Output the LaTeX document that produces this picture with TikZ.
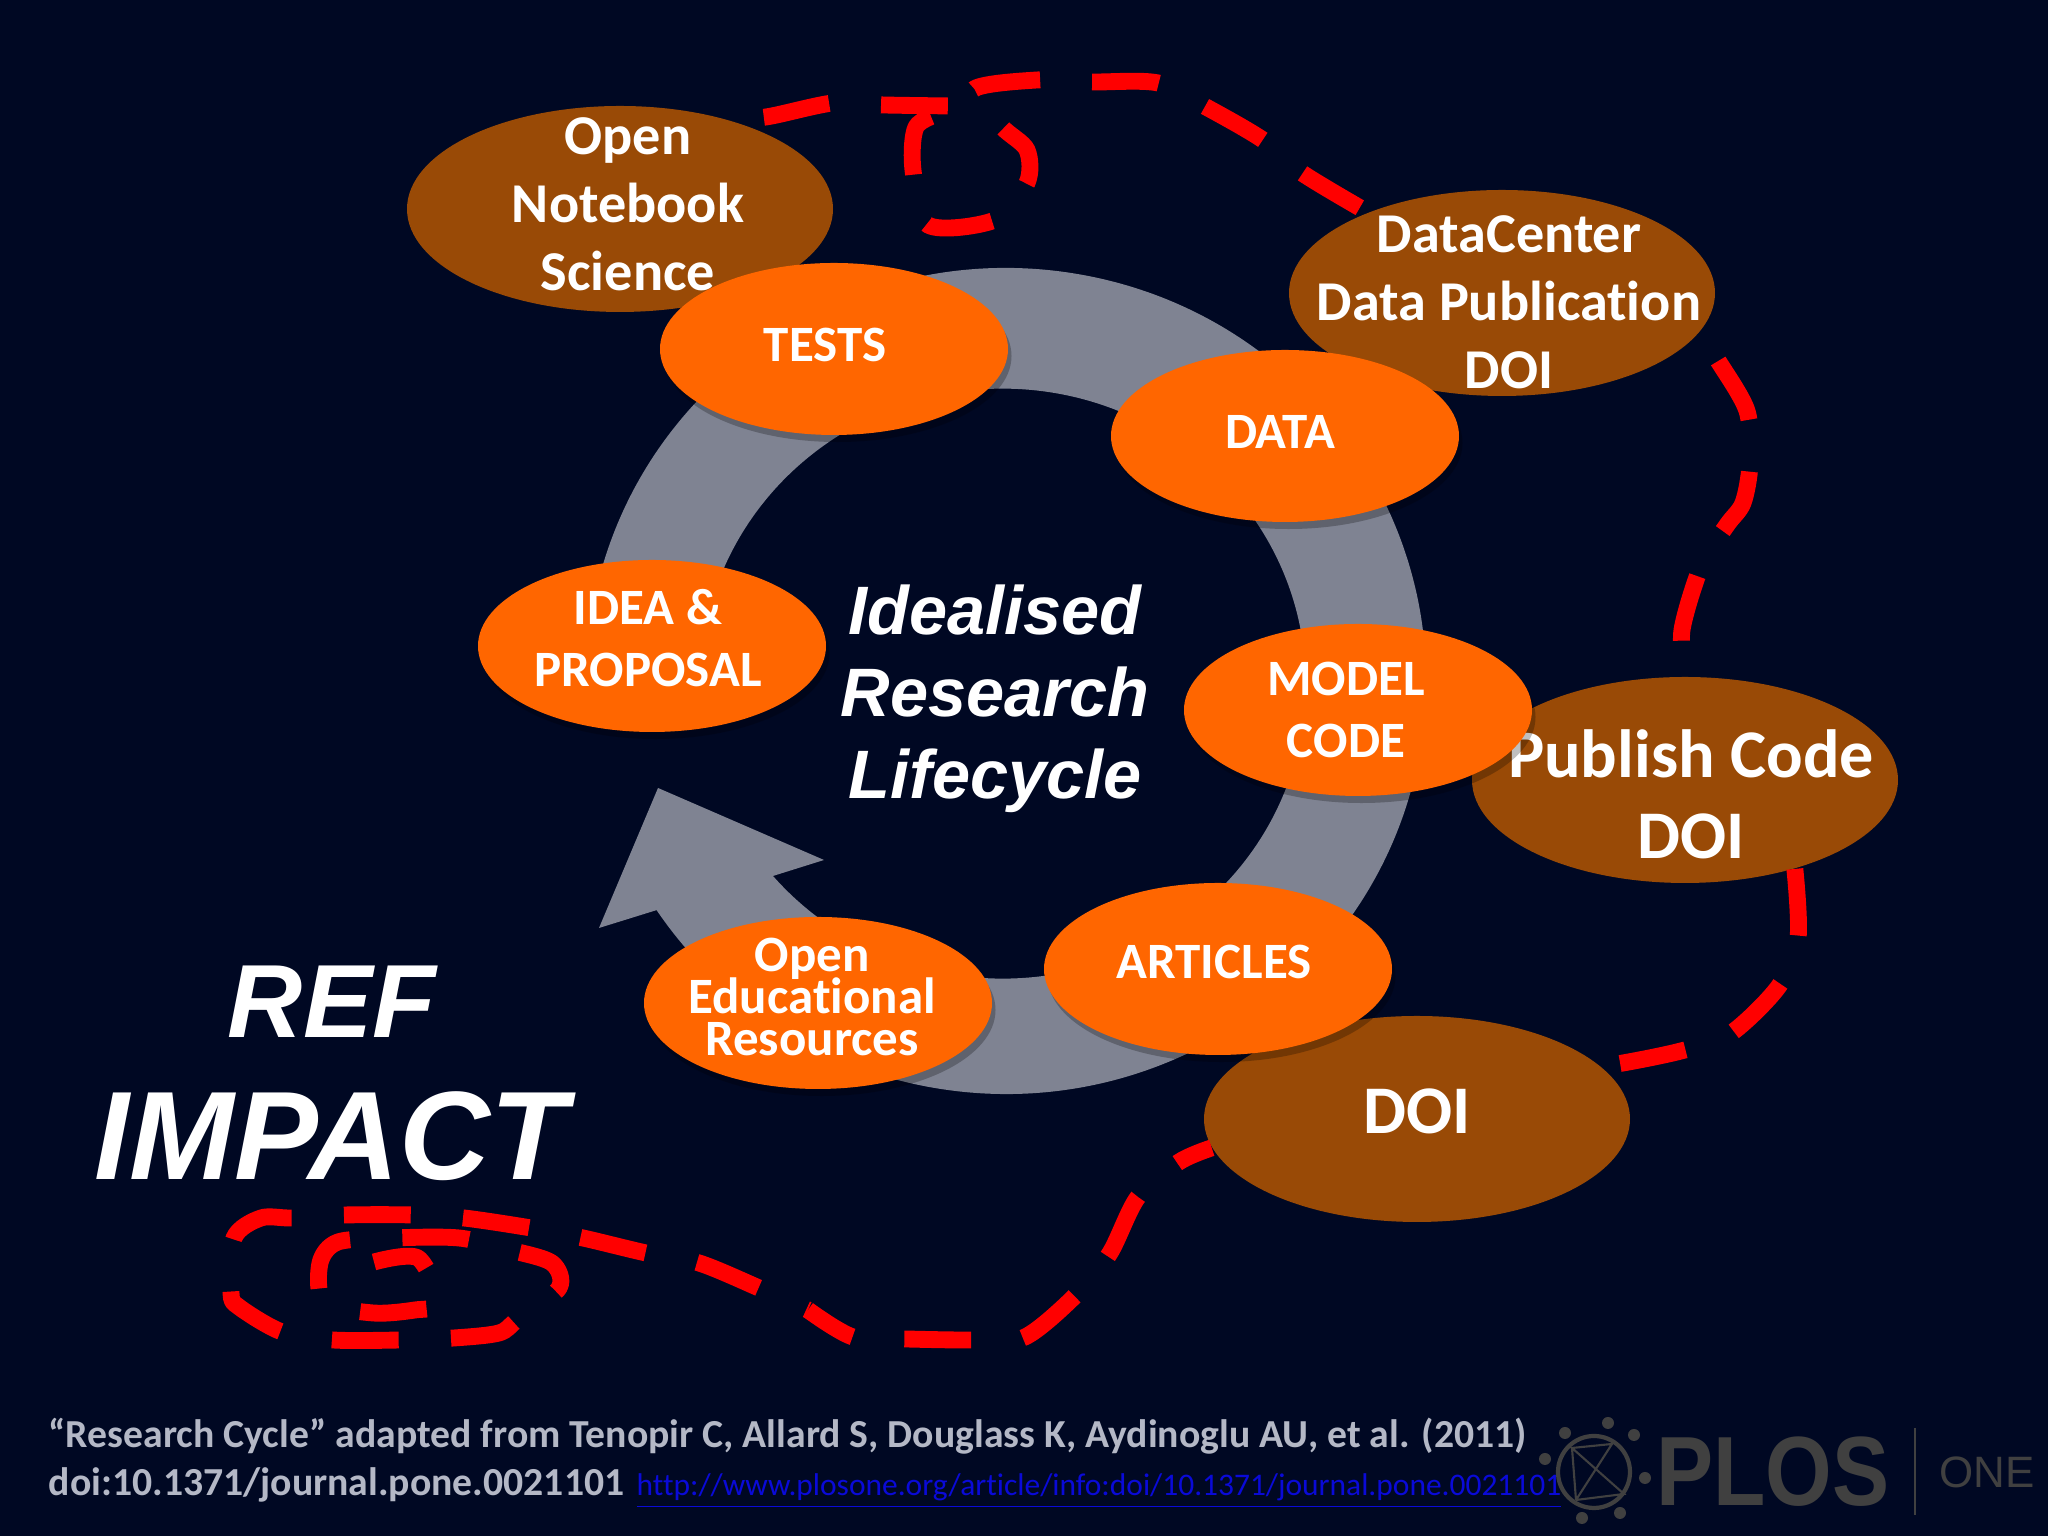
\documentclass[tikz,border=0pt]{standalone}
\usepackage{fontspec}
\usepackage{xcolor}
\setmainfont[Ligatures=CommonOff]{Carlito}
\newfontfamily\arialfont{Liberation Sans}
\usetikzlibrary{shapes.geometric, shadows}
\definecolor{slidebg}{HTML}{000823}
\definecolor{ringgrey}{HTML}{7F8392}
\definecolor{ballbrown}{HTML}{994A06}
\definecolor{ballorange}{HTML}{FF6600}
\definecolor{notegrey}{HTML}{B4B8C6}
\definecolor{linkblue}{HTML}{0A0AD8}
\definecolor{logogrey}{HTML}{404040}

\begin{document}
\begin{tikzpicture}[
    brownball/.style={ellipse, fill=ballbrown, inner sep=0pt, minimum width=4.26cm, minimum height=2.06cm},
    orangeball/.style={ellipse, fill=ballorange, inner sep=0pt, minimum width=3.48cm, minimum height=1.72cm, drop shadow={fill=black, opacity=0.25, shadow xshift=1pt, shadow yshift=-2pt}},
    browntext/.style={text=white, align=center, inner sep=0pt, font=\fontsize{16}{19.3}\selectfont\bfseries},
    bigbrowntext/.style={text=white, align=center, inner sep=0pt, font=\fontsize{19.4}{23}\selectfont\bfseries},
    orangetext/.style={text=white, align=center, inner sep=0pt, font=\fontsize{14.5}{17.5}\selectfont\bfseries},
    bigword/.style={text=white, align=center, font=\arialfont\bfseries\itshape},
    redloop/.style={draw=red, line width=4.8pt, line join=round, dash pattern=on 19pt off 14.8pt},
    notetext/.style={text=notegrey, anchor=base west, inner sep=0pt, font=\fontsize{11.3}{14}\selectfont\bfseries},
    logodot/.style={circle, fill=logogrey, inner sep=0pt, minimum size=0.12cm}
  ]
  \useasboundingbox (0,0) rectangle (20.48,15.36);
  \fill[slidebg] (0,0) rectangle (20.48,15.36);

  \fill[ringgrey] (10.06,8.55) ++(170:4.20 and 4.13)
    arc[x radius=4.20, y radius=4.13, start angle=170, end angle=-146.3]
    -- (5.99,6.08) -- (6.58,7.48) -- (8.24,6.76) -- (7.73,6.60)
    arc[x radius=3.03, y radius=2.95, start angle=-139.3, end angle=170] -- cycle;

  \node[brownball, label={[browntext, xshift=0.08cm, yshift=0.05cm]center:Open\\Notebook\\Science}] (notebook) at (6.20,13.27) {};
  \node[brownball, label={[browntext, xshift=0.07cm, yshift=-0.09cm]center:DataCenter\\Data Publication\\DOI}] (datacenter) at (15.02,12.43) {};
  \node[brownball, label={[bigbrowntext, xshift=0.06cm, yshift=-0.14cm]center:Publish Code\\DOI}] (publish) at (16.85,7.56) {};
  \node[brownball, label={[bigbrowntext, yshift=0.08cm]center:DOI}] (doi) at (14.17,4.17) {};

  \node[orangeball, label={[orangetext, xshift=-0.09cm, yshift=0.04cm]center:TESTS}] (tests) at (8.34,11.87) {};
  \node[orangeball, label={[orangetext, xshift=-0.05cm, yshift=0.04cm]center:DATA}] (data) at (12.85,11.00) {};
  \node[orangeball, label={[orangetext, xshift=-0.04cm, yshift=0.08cm]center:IDEA \&\\PROPOSAL}] (idea) at (6.52,8.90) {};
  \node[orangeball, label={[orangetext, xshift=-0.12cm]center:MODEL\\CODE}] (model) at (13.58,8.26) {};
  \node[orangeball, label={[orangetext, xshift=-0.04cm, yshift=0.07cm]center:ARTICLES}] (articles) at (12.18,5.67) {};
  \node[orangeball, label={[orangetext, xshift=-0.06cm, yshift=0.06cm]center:Open\\[-5.6pt]Educational\\[-5.6pt]Resources}] (oer) at (8.18,5.33) {};

  \node[bigword, font=\arialfont\bfseries\itshape\fontsize{19.5}{23.4}\selectfont] (lifecycle) at (9.95,8.37) {Idealised\\Research\\Lifecycle};
  \node[bigword, font=\arialfont\bfseries\itshape\fontsize{29.6}{34}\selectfont] (ref) at (3.32,5.34) {REF};
  \node[bigword, font=\arialfont\bfseries\itshape\fontsize{35.8}{42}\selectfont] (impact) at (3.31,4.00) {IMPACT};

  \coordinate (hooka) at (9.51,14.30);
  \coordinate (hookb) at (9.41,14.23);
  \coordinate (bend) at (8.08,2.26);
  \coordinate (refend) at (3.74,2.74);

  \draw[redloop, dash phase=22.5pt] plot[smooth, tension=0.5] coordinates {(notebook.41) (7.66,14.19) (8.33,14.33) (8.84,14.31) (hooka)};
  \draw[redloop, dash phase=30.8pt] plot[smooth, tension=0.5] coordinates {(hookb) (9.16,14.09) (9.13,13.66) (9.28,13.11) (9.95,13.16) (10.27,13.53) (10.27,13.86) (10.02,14.09) (9.73,14.46) (10.37,14.56) (10.91,14.54) (11.58,14.53) (12.06,14.29) (12.63,13.96) (13.02,13.63) (datacenter.149)};
  \draw[redloop, dash phase=24pt] plot[smooth, tension=0.5] coordinates {(datacenter.-11) (17.17,11.77) (17.47,11.25) (17.50,10.72) (17.43,10.33) (17.27,10.11) (17.02,9.72) (16.82,9.06) (publish.north)};
  \draw[redloop] plot[smooth, tension=0.5] coordinates {(publish.-39) (17.98,5.98) (17.79,5.50) (17.30,5.02) (16.81,4.85) (16.17,4.72) (doi.17)};
  \draw[redloop, dash phase=8.25pt] plot[smooth, tension=0.5] coordinates {(doi.188) (11.79,3.74) (11.38,3.39) (11.10,2.83) (10.78,2.43) (10.25,1.99) (9.75,1.96) (9.06,1.97) (8.53,1.99) (bend)};
  \draw[redloop, dash pattern=on 19pt off 14.9pt, dash phase=18.5pt] plot[smooth, tension=0.5] coordinates {(bend) (7.59,2.48) (6.99,2.73) (6.46,2.83) (5.83,2.98) (5.31,3.08) (4.64,3.18) (4.14,3.21) (3.45,3.21) (2.92,3.18) (2.61,3.18) (2.34,2.98) (2.31,2.43) (2.39,2.29) (2.82,2.04) (3.33,1.96) (4.01,1.96) (4.54,1.98) (4.99,2.03) (5.17,2.16) (5.59,2.48) (5.52,2.73) (5.10,2.86) (4.59,2.98) (3.92,2.98) (3.38,2.94) (3.20,2.73) (3.24,2.34) (3.73,2.23) (4.15,2.26) (4.39,2.33) (4.18,2.78) (refend)};

  \draw[logogrey, line width=1.2pt] (15.94,0.64) circle (0.36);
  \draw[logogrey, line width=0.6pt] (15.76,0.36) -- (16.12,0.92) -- (15.72,0.88) -- (16.24,0.42) -- (15.76,0.36) (15.72,0.88) -- (15.76,0.36);
  \foreach \dotx/\doty in {16.08/1.13, 15.65/1.03, 16.34/1.01, 15.45/0.77, 16.45/0.58, 15.82/0.18, 16.20/0.23} {
    \node[logodot] at (\dotx,\doty) {};
  }
  \node[text=logogrey, xscale=0.87, inner sep=0pt, font=\arialfont\bfseries\fontsize{28}{28}\selectfont] (plos) at (17.73,0.64) {PLOS};
  \draw[logogrey, line width=0.8pt] (19.15,1.08) -- (19.15,0.21);
  \node[text=logogrey, inner sep=0pt, font=\arialfont\fontsize{12.5}{12}\selectfont] (one) at (19.87,0.64) {ONE};

  \node[notetext] (cite) at (0.48,0.88) {“Research Cycle” adapted from Tenopir C, Allard S, Douglass K, Aydinoglu AU, et al. (2011)};
  \node[notetext] (citedoi) at (0.48,0.40) {doi:10.1371/journal.pone.0021101};
  \node[notetext, text=linkblue, font=\fontsize{8.95}{12}\selectfont] (citelink) at (6.36,0.40) {\underline{http://www.plosone.org/article/info:doi/10.1371/journal.pone.0021101}};
\end{tikzpicture}
\end{document}
